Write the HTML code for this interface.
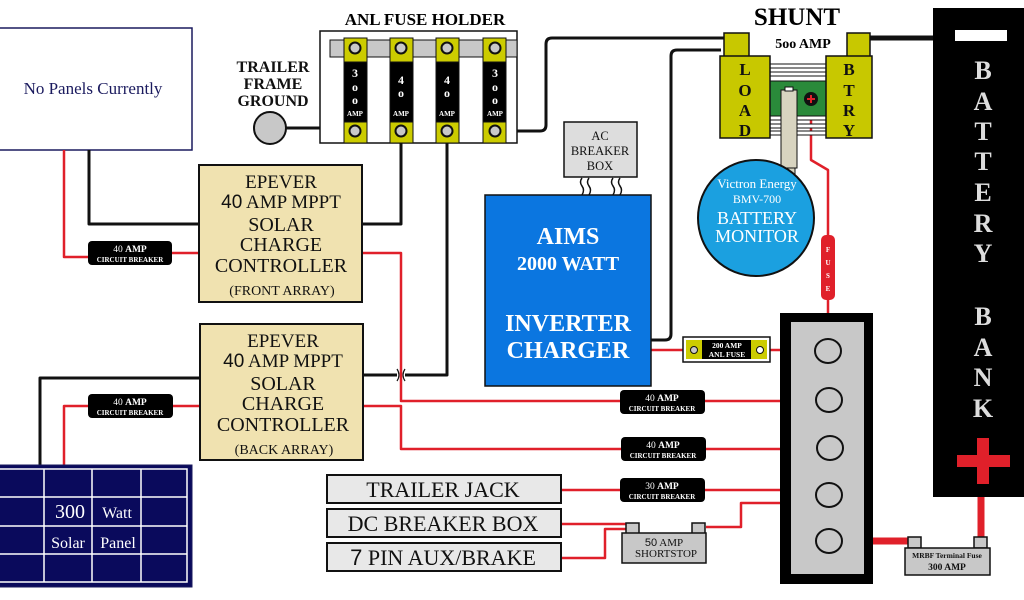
<!DOCTYPE html>
<html><head><meta charset="utf-8"><style>
html,body{margin:0;padding:0;background:#fff}
svg{display:block}
text{font-family:"Liberation Serif",serif}
</style></head><body>
<svg width="1024" height="600" viewBox="0 0 1024 600" xmlns="http://www.w3.org/2000/svg">
<rect width="1024" height="600" fill="#fff"/>
<!-- No panels -->
<rect x="-1" y="28" width="193" height="122" fill="#fff" stroke="#1a1a5e" stroke-width="1.5"/>
<text x="93" y="94" font-size="17" text-anchor="middle" fill="#1a1a5e">No Panels Currently</text>

<!-- wires black -->
<g fill="none" stroke="#111" stroke-width="3" stroke-linejoin="round">
<path d="M89 150 V224 H199"/>
<path d="M362 224 H401 V131"/>
<path d="M363 375 H397 M405 375 H447 V131"/>
<path d="M40 466 V378 H200"/>
<path d="M286 128 H355"/>
<path d="M495 131 H540 Q546 131 546 125 V44 Q546 38 552 38 H725"/>
<path d="M651 340 H665 Q671 340 671 334 V56 Q671 50 677 50 H721"/>
<path d="M870 38 H934" stroke-width="5"/>
</g>
<path d="M397 369 Q401 375 397 381 M405 369 Q401 375 405 381" stroke="#111" stroke-width="1.2" fill="none"/>

<!-- red wires -->
<g fill="none" stroke="#e0202a" stroke-width="2.5" stroke-linejoin="round">
<path d="M64 150 V257 H88"/>
<path d="M172 253 H199"/>
<path d="M362 253 H401 V401 H820"/>
<path d="M64 466 V406 H88"/>
<path d="M173 406 H200"/>
<path d="M363 406 H401 V449 H820"/>
<path d="M651 350 H683 M770 350 H820"/>
<path d="M561 490 H820"/>
<path d="M561 524 H626"/>
<path d="M706 527 H741 V503 H820"/>
<path d="M561 558 H605 V529 H626"/>
<path d="M811 100 V160 L828 170 V340"/>
</g>
<path d="M843 541 H915" stroke="#e0202a" stroke-width="7"/>
<path d="M981 495 V542" stroke="#e0202a" stroke-width="7"/>

<!-- solar panel -->
<rect x="-1" y="465" width="193" height="122" fill="#0a0a5c" stroke="#1a1a5e"/>
<g stroke="#fff" stroke-width="1.5" fill="none">
<rect x="-2" y="469" width="189" height="113"/>
<path d="M44 469 V582 M92 469 V582 M141 469 V582 M0 497 H187 M0 526 H187 M0 554 H187"/>
</g>
<text x="70" y="518" font-size="20" fill="#fff" text-anchor="middle" font-family="Liberation Sans">300</text>
<text x="117" y="518" font-size="16" fill="#fff" text-anchor="middle">Watt</text>
<text x="68" y="548" font-size="16" fill="#fff" text-anchor="middle">Solar</text>
<text x="118" y="548" font-size="16" fill="#fff" text-anchor="middle">Panel</text>

<!-- breakers -->
<g font-weight="bold" fill="#fff" text-anchor="middle">
<rect x="88" y="241" width="84" height="24" rx="4" fill="#000"/>
<text x="130" y="252" font-size="9.5" font-family="Liberation Sans" font-weight="normal">40 <tspan font-weight="bold" font-family="Liberation Serif">AMP</tspan></text>
<text x="130" y="262" font-size="7">CIRCUIT BREAKER</text>
<rect x="88" y="394" width="85" height="24" rx="4" fill="#000"/>
<text x="130" y="405" font-size="9.5" font-family="Liberation Sans" font-weight="normal">40 <tspan font-weight="bold" font-family="Liberation Serif">AMP</tspan></text>
<text x="130" y="415" font-size="7">CIRCUIT BREAKER</text>
<rect x="620" y="390" width="85" height="24" rx="4" fill="#000"/>
<text x="662" y="401" font-size="9.5" font-family="Liberation Sans" font-weight="normal">40 <tspan font-weight="bold" font-family="Liberation Serif">AMP</tspan></text>
<text x="662" y="411" font-size="7">CIRCUIT BREAKER</text>
<rect x="621" y="437" width="85" height="24" rx="4" fill="#000"/>
<text x="663" y="448" font-size="9.5" font-family="Liberation Sans" font-weight="normal">40 <tspan font-weight="bold" font-family="Liberation Serif">AMP</tspan></text>
<text x="663" y="458" font-size="7">CIRCUIT BREAKER</text>
<rect x="620" y="478" width="85" height="24" rx="4" fill="#000"/>
<text x="662" y="489" font-size="9.5" font-family="Liberation Sans" font-weight="normal">30 <tspan font-weight="bold" font-family="Liberation Serif">AMP</tspan></text>
<text x="662" y="499" font-size="7">CIRCUIT BREAKER</text>
</g>

<!-- charge controllers -->
<g text-anchor="middle" fill="#111">
<rect x="199" y="165" width="163" height="137" fill="#f0e2b0" stroke="#111" stroke-width="2"/>
<text x="281" y="188" font-size="19">EPEVER</text>
<text x="281" y="208" font-size="19"><tspan font-family="Liberation Sans">40</tspan> AMP MPPT</text>
<text x="281" y="231" font-size="20">SOLAR</text>
<text x="281" y="251" font-size="20">CHARGE</text>
<text x="281" y="272" font-size="20">CONTROLLER</text>
<text x="282" y="295" font-size="14">(FRONT ARRAY)</text>
<rect x="200" y="324" width="163" height="136" fill="#f0e2b0" stroke="#111" stroke-width="2"/>
<text x="283" y="347" font-size="19">EPEVER</text>
<text x="283" y="367" font-size="19"><tspan font-family="Liberation Sans">40</tspan> AMP MPPT</text>
<text x="283" y="390" font-size="20">SOLAR</text>
<text x="283" y="410" font-size="20">CHARGE</text>
<text x="283" y="431" font-size="20">CONTROLLER</text>
<text x="284" y="454" font-size="14">(BACK ARRAY)</text>
</g>

<!-- fuse holder -->
<text x="425" y="25" font-size="17" font-weight="bold" text-anchor="middle">ANL FUSE HOLDER</text>
<rect x="320" y="31" width="197" height="112" fill="#fff" stroke="#111" stroke-width="1.5"/>
<rect x="330" y="40" width="187" height="17" fill="#c8c8c8" stroke="#111"/>
<g stroke="#111">
<rect x="344" y="38" width="23" height="24" fill="#cccc00"/><rect x="344" y="62" width="23" height="60" fill="#000"/><rect x="344" y="122" width="23" height="21" fill="#cccc00"/>
<rect x="390" y="38" width="23" height="24" fill="#cccc00"/><rect x="390" y="62" width="23" height="60" fill="#000"/><rect x="390" y="122" width="23" height="21" fill="#cccc00"/>
<rect x="436" y="38" width="23" height="24" fill="#cccc00"/><rect x="436" y="62" width="23" height="60" fill="#000"/><rect x="436" y="122" width="23" height="21" fill="#cccc00"/>
<rect x="483" y="38" width="23" height="24" fill="#cccc00"/><rect x="483" y="62" width="23" height="60" fill="#000"/><rect x="483" y="122" width="23" height="21" fill="#cccc00"/>
</g>
<g fill="#c8c8c8" stroke="#111" stroke-width="2">
<circle cx="355" cy="48" r="5.5"/><circle cx="401" cy="48" r="5.5"/><circle cx="447" cy="48" r="5.5"/><circle cx="495" cy="48" r="5.5"/>
<circle cx="355" cy="131" r="5.5"/><circle cx="401" cy="131" r="5.5"/><circle cx="447" cy="131" r="5.5"/><circle cx="495" cy="131" r="5.5"/>
</g>
<g fill="#fff" font-weight="bold" text-anchor="middle" font-size="12">
<text x="355" y="77">3</text><text x="355" y="91">o</text><text x="355" y="104">o</text><text x="355" y="116" font-size="7">AMP</text>
<text x="401" y="84">4</text><text x="401" y="97">o</text><text x="401" y="116" font-size="7">AMP</text>
<text x="447" y="84">4</text><text x="447" y="97">o</text><text x="447" y="116" font-size="7">AMP</text>
<text x="495" y="77">3</text><text x="495" y="91">o</text><text x="495" y="104">o</text><text x="495" y="116" font-size="7">AMP</text>
</g>
<g font-weight="bold" font-size="16" text-anchor="middle" fill="#111">
<text x="273" y="72">TRAILER</text><text x="273" y="89">FRAME</text><text x="273" y="106">GROUND</text>
</g>
<circle cx="270" cy="128" r="16" fill="#c8c8c8" stroke="#111" stroke-width="2"/>

<!-- AC breaker box -->
<g fill="none" stroke="#111" stroke-width="1.5">
<path d="M582 178 q-3 4 0 8 q3 4 0 9 M589 178 q-3 4 0 8 q3 4 0 9 M613 178 q-3 4 0 8 q3 4 0 9 M620 178 q-3 4 0 8 q3 4 0 9"/>
</g>
<rect x="564" y="122" width="73" height="55" fill="#ddd" stroke="#111" stroke-width="1.5"/>
<g text-anchor="middle" font-size="12.5" fill="#111">
<text x="600" y="140">AC</text><text x="600" y="155">BREAKER</text><text x="600" y="170">BOX</text>
</g>

<!-- inverter -->
<rect x="485" y="195" width="166" height="191" fill="#0b76e0" stroke="#111" stroke-width="1.5"/>
<g fill="#fff" font-weight="bold" text-anchor="middle">
<text x="568" y="244" font-size="24">AIMS</text>
<text x="568" y="270" font-size="20">2000 WATT</text>
<text x="568" y="331" font-size="24">INVERTER</text>
<text x="568" y="358" font-size="24">CHARGER</text>
</g>

<!-- ANL fuse 200 -->
<rect x="683" y="337" width="87" height="25" fill="#fff" stroke="#111" stroke-width="1.5"/>
<rect x="686" y="340" width="81" height="19" fill="#000"/>
<rect x="686" y="340" width="16" height="19" fill="#cccc00"/><rect x="751" y="340" width="16" height="19" fill="#cccc00"/>
<circle cx="694" cy="350" r="3.5" fill="#c8c8c8" stroke="#111"/><circle cx="760" cy="350" r="3.5" fill="#fff" stroke="#111"/>
<g fill="#fff" font-weight="bold" text-anchor="middle" font-size="7.5">
<text x="727" y="348">200 AMP</text><text x="727" y="357">ANL FUSE</text>
</g>

<!-- bus bar -->
<rect x="780" y="313" width="93" height="271" fill="#000"/>
<rect x="791" y="322" width="73" height="252" fill="#c8c8c8"/>
<g fill="#c8c8c8" stroke="#111" stroke-width="2">
<ellipse cx="828" cy="351" rx="13" ry="12"/><ellipse cx="829" cy="400" rx="13" ry="12"/><ellipse cx="830" cy="448" rx="13" ry="12"/><ellipse cx="829" cy="495" rx="13" ry="12"/><ellipse cx="829" cy="541" rx="13" ry="12"/>
</g>

<!-- labels left -->
<g stroke="#111" stroke-width="2" fill="#e8e8e8">
<rect x="327" y="475" width="234" height="28"/><rect x="327" y="509" width="234" height="28"/><rect x="327" y="543" width="234" height="28"/>
</g>
<g font-size="22" text-anchor="middle" fill="#111">
<text x="443" y="497">TRAILER JACK</text>
<text x="443" y="531">DC BREAKER BOX</text>
<text x="443" y="565"><tspan font-family="Liberation Sans">7</tspan> PIN AUX/BRAKE</text>
</g>

<!-- shortstop -->
<g stroke="#111" stroke-width="1.5" fill="#c8c8c8">
<rect x="626" y="523" width="13" height="11"/><rect x="692" y="523" width="13" height="11"/>
<rect x="622" y="533" width="84" height="30"/>
</g>
<g text-anchor="middle" font-size="11" fill="#111">
<text x="664" y="546"><tspan font-family="Liberation Sans">50</tspan> AMP</text><text x="666" y="557">SHORTSTOP</text>
</g>

<!-- MRBF -->
<g stroke="#111" stroke-width="1.5" fill="#c8c8c8">
<rect x="908" y="537" width="13" height="11"/><rect x="974" y="537" width="13" height="11"/>
<rect x="905" y="548" width="85" height="27"/>
</g>
<g text-anchor="middle" font-weight="bold" fill="#111">
<text x="947" y="558" font-size="7.5">MRBF Terminal Fuse</text><text x="947" y="570" font-size="9.5">300 AMP</text>
</g>

<!-- shunt -->
<text x="797" y="25" font-size="25" font-weight="bold" text-anchor="middle">SHUNT</text>
<text x="803" y="48" font-size="14" font-weight="bold" text-anchor="middle">5oo AMP</text>
<g stroke="#111" stroke-width="1" fill="#fff">
<rect x="770" y="64" width="56" height="4"/><rect x="770" y="72" width="56" height="4"/>
<rect x="770" y="116" width="56" height="4"/><rect x="770" y="124" width="56" height="4"/><rect x="770" y="131" width="56" height="4"/>
</g>
<rect x="770" y="81" width="56" height="35" fill="#2a8a3a" stroke="#111"/>
<rect x="724" y="33" width="25" height="24" fill="#c8c800" stroke="#111" stroke-width="1.5"/>
<rect x="720" y="56" width="50" height="82" fill="#c8c800" stroke="#111" stroke-width="1.5"/>
<rect x="847" y="33" width="23" height="24" fill="#c8c800" stroke="#111" stroke-width="1.5"/>
<rect x="826" y="56" width="46" height="82" fill="#c8c800" stroke="#111" stroke-width="1.5"/>
<g font-size="17" font-weight="bold" text-anchor="middle" fill="#111">
<text x="745" y="75">L</text><text x="745" y="96">O</text><text x="745" y="116">A</text><text x="745" y="136">D</text>
<text x="849" y="75">B</text><text x="849" y="96">T</text><text x="849" y="116">R</text><text x="849" y="136">Y</text>
</g>
<rect x="783" y="167" width="12" height="30" fill="#d8d4c0" stroke="#111" stroke-width="1"/>
<rect x="781" y="90" width="16" height="78" fill="#d8d4c0" stroke="#111" stroke-width="1"/>
<rect x="785" y="87" width="8" height="4" fill="#fff" stroke="#111"/>
<circle cx="811" cy="99" r="7" fill="#111"/>
<path d="M807 99 H815 M811 95 V103" stroke="#e0202a" stroke-width="2"/>

<!-- monitor -->
<circle cx="756" cy="218" r="58" fill="#1ba0e0" stroke="#111" stroke-width="2"/>
<g fill="#fff" text-anchor="middle">
<text x="757" y="188" font-size="13">Victron Energy</text>
<text x="757" y="203" font-size="12" font-family="Liberation Sans">BMV-700</text>
<text x="757" y="224" font-size="18">BATTERY</text>
<text x="757" y="242" font-size="18">MONITOR</text>
</g>

<!-- inline fuse -->
<rect x="821" y="235" width="14" height="65" rx="5" fill="#e0202a"/>
<g fill="#fff" font-size="7" font-weight="bold" text-anchor="middle">
<text x="828" y="252">F</text><text x="828" y="265">U</text><text x="828" y="278">S</text><text x="828" y="291">E</text>
</g>

<!-- battery bank -->
<rect x="933" y="8" width="91" height="489" fill="#000"/>
<rect x="955" y="30" width="52" height="11" fill="#fff"/>
<g fill="#ddd" font-size="26" font-weight="bold" text-anchor="middle">
<text x="983" y="79">B</text><text x="983" y="110">A</text><text x="983" y="140">T</text><text x="983" y="170">T</text><text x="983" y="201">E</text><text x="983" y="232">R</text><text x="983" y="262">Y</text>
<text x="983" y="325">B</text><text x="983" y="356">A</text><text x="983" y="386">N</text><text x="983" y="417">K</text>
</g>
<rect x="957" y="455" width="53" height="12" fill="#e0202a"/>
<rect x="977" y="438" width="12" height="46" fill="#e0202a"/>
</svg>
</body></html>
